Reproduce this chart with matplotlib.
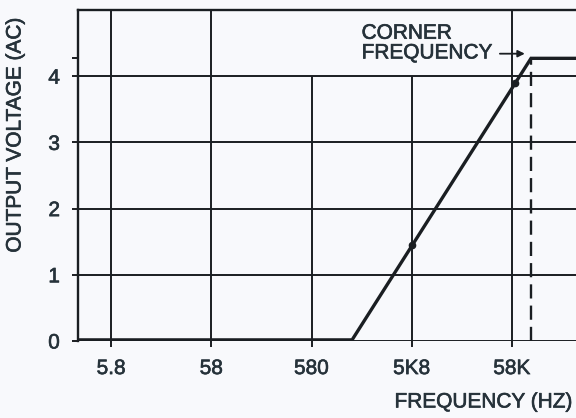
"""
Corner frequency plot: output voltage (AC) vs frequency (log scale)
"""

import matplotlib
matplotlib.use('Agg')  # no display
import matplotlib.pyplot as plt
import matplotlib.patheffects as pe

# ========== data ==========
# response curve (Hz, volts)
curve_freq = [2.71, 1450, 90000, 253000]
curve_volt = [0.0, 0.0, 4.27, 4.27]

# dots sitting on the rising edge
dot_freq = [5800, 62000]
dot_volt = [1.45, 3.9]

# corner frequency
corner_freq = 90000
corner_volt = 4.27

# axis ticks
x_ticks = [5.8, 58, 580, 5800, 58000]
x_tick_labels = ['5.8', '58', '580', '5K8', '58K']
x_grid_top = [5.0, 5.0, 4.0, 4.0, 5.0]   # 580 and 5K8 grid lines stop at 4 V
y_ticks = [0, 1, 2, 3, 4]
y_grid = [1, 2, 3, 4]

# ========== style ==========
BG = '#f8f9fc'
INK = '#1a1e22'
TEXT = '#26323a'
plt.rcParams['font.family'] = ['Liberation Sans', 'DejaVu Sans']
FS = 15
# scanned print look: thicken the glyphs a little
HEAVY = [pe.withStroke(linewidth=0.45, foreground=TEXT)]

fig = plt.figure(figsize=(5.76, 4.18), dpi=100, facecolor=BG)
ax = fig.add_axes([78 / 576, 1 - 341 / 418, 1 - 78 / 576, 331 / 418])
ax.set_facecolor(BG)
ax.set_xscale('log')
ax.set_xlim(curve_freq[0], curve_freq[-1])
ax.set_ylim(0, 5.0)

# grid lines
for y in y_grid:
    ax.axhline(y, color=INK, lw=1.4, zorder=1)
for x, top in zip(x_ticks, x_grid_top):
    ax.vlines(x, 0, top, color=INK, lw=1.4, zorder=1)

# bottom line at 0 V
ax.axhline(0, color=INK, lw=1.4, zorder=1)

# flat part is drawn heavier than the slope
ax.plot(curve_freq[:2], curve_volt[:2], color=INK, lw=4.0,
        solid_capstyle='butt', zorder=3)
ax.plot(curve_freq[1:], curve_volt[1:], color=INK, lw=2.4,
        solid_joinstyle='miter', zorder=3)
ax.plot(dot_freq, dot_volt, 'o', color=INK, ms=4.5, zorder=4)

# dashed drop line at the corner
ax.vlines(corner_freq, 0, corner_volt, color=INK, lw=1.7,
          linestyles=(0, (6, 3)), zorder=2)

# annotation
ax.text(1834, 4.50, 'CORNER\nFREQUENCY', fontsize=FS, color=TEXT,
        ha='left', va='center', linespacing=1.05, path_effects=HEAVY)
ax.annotate('', xy=(78000, 4.34), xytext=(44000, 4.34),
            arrowprops=dict(arrowstyle='-|>', color=INK, lw=1.3,
                            mutation_scale=10, shrinkA=0, shrinkB=0))

# spines
ax.spines['right'].set_visible(False)
ax.spines['bottom'].set_visible(False)
for side in ('left', 'top'):
    ax.spines[side].set_color(INK)
    ax.spines[side].set_linewidth(1.7)

# ticks
ax.set_xticks(x_ticks)
ax.set_xticklabels(x_tick_labels)
ax.xaxis.set_minor_locator(matplotlib.ticker.NullLocator())
ax.set_yticks(y_ticks + [corner_volt])
ax.set_yticklabels([str(v) for v in y_ticks] + [''])
ax.tick_params(axis='both', direction='out', length=4, width=1.4,
               color=INK, labelcolor=TEXT, labelsize=FS)
ax.tick_params(axis='x', pad=9)
ax.tick_params(axis='y', pad=9)
for lbl in ax.get_xticklabels() + ax.get_yticklabels():
    lbl.set_path_effects(HEAVY)

# axis titles
fig.text(0.026, 1 - 135 / 418, 'OUTPUT VOLTAGE (AC)', rotation=90,
         fontsize=FS, color=TEXT, ha='center', va='center', path_effects=HEAVY)
fig.text(573 / 576, 1 - 402 / 418, 'FREQUENCY (HZ)', fontsize=FS,
         color=TEXT, ha='right', va='center', path_effects=HEAVY)

fig.savefig('out.png', dpi=100, facecolor=BG)
